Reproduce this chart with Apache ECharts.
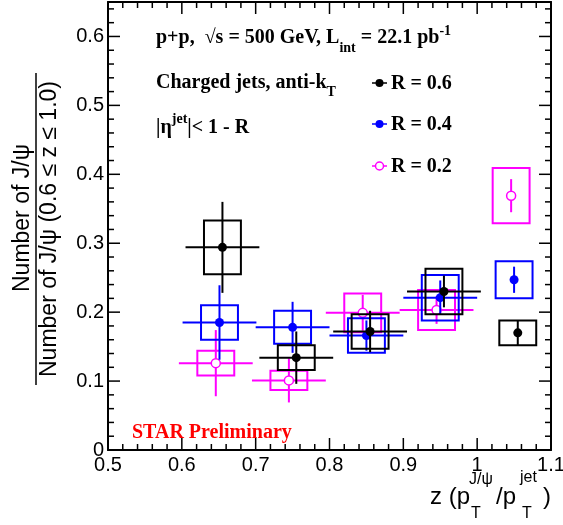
<!DOCTYPE html>
<html>
<head>
<meta charset="utf-8">
<script src="https://cdn.jsdelivr.net/npm/echarts@6/dist/echarts.min.js"></script>
<style>
  html, body { margin: 0; padding: 0; background: #fff; }
  #main { width: 563px; height: 525px; }
</style>
</head>
<body>
<div id="main"></div>
<script>
// z bins (slightly shifted per R so the points do not overlap)
var z06 = [0.655, 0.755, 0.855, 0.955, 1.055];
var z04 = [0.651, 0.750, 0.850, 0.950, 1.050];
var z02 = [0.646, 0.745, 0.845, 0.945, 1.046];

// ratio values
var ratio06 = [0.294, 0.134, 0.172, 0.230, 0.170];
var ratio04 = [0.185, 0.178, 0.166, 0.221, 0.247];
var ratio02 = [0.126, 0.101, 0.199, 0.203, 0.369];

// statistical errors (vertical bars)
var stat06 = [0.066, 0.038, 0.030, 0.023, 0.018];
var stat04 = [0.054, 0.037, 0.022, 0.025, 0.019];
var stat02 = [0.048, 0.032, 0.026, 0.020, 0.024];

// systematic errors (boxes)
var sys06 = [0.039, 0.018, 0.025, 0.033, 0.018];
var sys04 = [0.025, 0.024, 0.025, 0.033, 0.027];
var sys02 = [0.018, 0.014, 0.028, 0.029, 0.040];

// half bin width (horizontal bar), none for the z > 1 bin
var binHalf = [0.05, 0.05, 0.05, 0.05, 0];
var boxHalf = 0.025;

// axis ranges and major ticks
var xRange = [0.5, 1.1];
var yRange = [0, 0.65];
var xMajor = [0.5, 0.6, 0.7, 0.8, 0.9, 1.0, 1.1];
var yMajor = [0, 0.1, 0.2, 0.3, 0.4, 0.5, 0.6];
var minorStep = 0.02;

var serif = '"Liberation Serif", "Times New Roman", serif';
var sans = '"Liberation Sans", Arial, sans-serif';

function makeSeries(name, color, zs, rs, st, sy, open) {
  var data = [];
  for (var i = 0; i < zs.length; i++) {
    data.push([zs[i], rs[i], st[i], sy[i], binHalf[i]]);
  }
  return {
    type: 'custom',
    name: name,
    data: data,
    encode: { x: 0, y: 1 },
    renderItem: function (params, api) {
      var x = api.value(0), y = api.value(1);
      var s = api.value(2), b = api.value(3), h = api.value(4);
      var c = api.coord([x, y]);
      var p1 = api.coord([x - boxHalf, y + b]);
      var p2 = api.coord([x + boxHalf, y - b]);
      var top = api.coord([x, y + s]);
      var bot = api.coord([x, y - s]);
      var lft = api.coord([x - h, y]);
      var rgt = api.coord([x + h, y]);
      var line = { stroke: color, lineWidth: 2, fill: null };
      var kids = [
        { type: 'rect', shape: { x: p1[0], y: p1[1], width: p2[0] - p1[0], height: p2[1] - p1[1] }, style: line },
        { type: 'line', shape: { x1: top[0], y1: top[1], x2: bot[0], y2: bot[1] }, style: line }
      ];
      if (h > 0) {
        kids.push({ type: 'line', shape: { x1: lft[0], y1: lft[1], x2: rgt[0], y2: rgt[1] }, style: line });
      }
      kids.push({
        type: 'circle',
        shape: { cx: c[0], cy: c[1], r: 4.5 },
        style: open ? { fill: '#fff', stroke: color, lineWidth: 1.5 } : { fill: color, stroke: null }
      });
      return { type: 'group', children: kids };
    }
  };
}

// frame ticks on all four sides (ROOT style, pointing inwards)
function tickData() {
  var d = [];
  xMajor.forEach(function (v, i) {
    d.push([v, 0, 12]);
    if (i < xMajor.length - 1) {
      for (var k = 1; k < 5; k++) d.push([+(v + k * minorStep).toFixed(3), 0, 6]);
    }
  });
  yMajor.forEach(function (v) {
    d.push([v, 1, 12]);
    for (var k = 1; k < 5; k++) {
      var m = +(v + k * minorStep).toFixed(3);
      if (m < yRange[1]) d.push([m, 1, 6]);
    }
  });
  return d;
}

var tickSeries = {
  type: 'custom',
  name: 'ticks',
  data: tickData(),
  silent: true,
  z: 1,
  renderItem: function (params, api) {
    var v = api.value(0), dir = api.value(1), len = api.value(2);
    var st = { stroke: '#000', lineWidth: 1.5 };
    if (dir === 0) {
      var b = api.coord([v, yRange[0]]), t = api.coord([v, yRange[1]]);
      return { type: 'group', children: [
        { type: 'line', shape: { x1: b[0], y1: b[1], x2: b[0], y2: b[1] - len }, style: st },
        { type: 'line', shape: { x1: t[0], y1: t[1], x2: t[0], y2: t[1] + len }, style: st }
      ] };
    }
    var l = api.coord([xRange[0], v]), r = api.coord([xRange[1], v]);
    return { type: 'group', children: [
      { type: 'line', shape: { x1: l[0], y1: l[1], x2: l[0] + len, y2: l[1] }, style: st },
      { type: 'line', shape: { x1: r[0], y1: r[1], x2: r[0] - len, y2: r[1] }, style: st }
    ] };
  }
};

function legendItem(y, color, label, open) {
  return [
    { type: 'line', shape: { x1: 372, y1: y, x2: 387, y2: y }, style: { stroke: color, lineWidth: 1.5 } },
    { type: 'circle', shape: { cx: 379.5, cy: y, r: 4 },
      style: open ? { fill: '#fff', stroke: color, lineWidth: 1.5 } : { fill: color } },
    { type: 'text', x: 391, y: y + 1, style: { text: label, font: 'bold 20px ' + serif, fill: '#000', verticalAlign: 'middle' } }
  ];
}

function frameAxis(pos, range, withLabels) {
  return {
    type: 'value',
    position: pos,
    min: range[0],
    max: range[1],
    interval: 0.1,
    axisLine: { show: true, onZero: false, lineStyle: { color: '#000', width: 2 } },
    axisTick: { show: false },
    splitLine: { show: false },
    axisLabel: withLabels
      ? { show: true, color: '#000', fontSize: 20, fontFamily: sans, margin: pos === 'bottom' ? 5 : 4, showMaxLabel: pos === 'bottom' }
      : { show: false }
  };
}

var chart = echarts.init(document.getElementById('main'));

var graphics = [
  { type: 'text', x: 156, y: 38, style: {
      text: 'p+p,  √s = 500 GeV, L{sub|int} = 22.1 pb{sup|-1}',
      font: 'bold 20px ' + serif, fill: '#000', verticalAlign: 'middle',
      rich: {
        sub: { font: 'bold 14px ' + serif, padding: [20, 0, 0, 0] },
        sup: { font: 'bold 14px ' + serif, padding: [0, 0, 14, 0] }
      } } },
  { type: 'text', x: 156, y: 83, style: {
      text: 'Charged jets, anti-k{sub|T}',
      font: 'bold 20px ' + serif, fill: '#000', verticalAlign: 'middle',
      rich: { sub: { font: 'bold 14px ' + serif, padding: [18, 0, 0, 0] } } } },
  { type: 'text', x: 156, y: 128, style: {
      text: '|η{sup|jet}|< 1 - R',
      font: 'bold 20px ' + serif, fill: '#000', verticalAlign: 'middle',
      rich: { sup: { font: 'bold 14px ' + serif, padding: [0, 0, 18, 0] } } } },
  { type: 'text', x: 132, y: 433, style: {
      text: 'STAR Preliminary', font: 'bold 20px ' + serif, fill: '#ff0000', verticalAlign: 'middle' } },
  // y axis title as a fraction
  { type: 'text', x: 23, y: 218, rotation: Math.PI / 2, style: {
      text: 'Number of J/ψ', font: '23px ' + sans, fill: '#000', align: 'center', verticalAlign: 'middle' } },
  { type: 'line', shape: { x1: 36, y1: 73, x2: 36, y2: 385 }, style: { stroke: '#000', lineWidth: 1.5 } },
  { type: 'text', x: 50, y: 229, rotation: Math.PI / 2, style: {
      text: 'Number of J/ψ (0.6 ≤ z ≤ 1.0)', font: '23px ' + sans, fill: '#000', align: 'center', verticalAlign: 'middle' } },
  // x axis title
  { type: 'text', x: 430, y: 497, style: { text: 'z (p', font: '24px ' + sans, fill: '#000', verticalAlign: 'middle' } },
  { type: 'text', x: 469, y: 480, style: { text: 'J/ψ', font: '16px ' + sans, fill: '#000', verticalAlign: 'middle' } },
  { type: 'text', x: 471, y: 514, style: { text: 'T', font: '16px ' + sans, fill: '#000', verticalAlign: 'middle' } },
  { type: 'text', x: 496, y: 497, style: { text: '/p', font: '24px ' + sans, fill: '#000', verticalAlign: 'middle' } },
  { type: 'text', x: 520, y: 478, style: { text: 'jet', font: '16px ' + sans, fill: '#000', verticalAlign: 'middle' } },
  { type: 'text', x: 522, y: 514, style: { text: 'T', font: '16px ' + sans, fill: '#000', verticalAlign: 'middle' } },
  { type: 'text', x: 543, y: 497, style: { text: ')', font: '24px ' + sans, fill: '#000', verticalAlign: 'middle' } }
]
  .concat(legendItem(83, '#000000', 'R = 0.6', false))
  .concat(legendItem(124, '#0000ff', 'R = 0.4', false))
  .concat(legendItem(166, '#ff00ff', 'R = 0.2', true));

var option = {
  animation: false,
  backgroundColor: '#fff',
  grid: { left: 108, right: 12, top: 2, bottom: 75, outerBoundsMode: 'none' },
  xAxis: [frameAxis('bottom', xRange, true), frameAxis('top', xRange, false)],
  yAxis: [frameAxis('left', yRange, true), frameAxis('right', yRange, false)],
  series: [
    tickSeries,
    makeSeries('R = 0.2', '#ff00ff', z02, ratio02, stat02, sys02, true),
    makeSeries('R = 0.4', '#0000ff', z04, ratio04, stat04, sys04, false),
    makeSeries('R = 0.6', '#000000', z06, ratio06, stat06, sys06, false)
  ],
  graphic: graphics
};

chart.setOption(option);
</script>
</body>
</html>
